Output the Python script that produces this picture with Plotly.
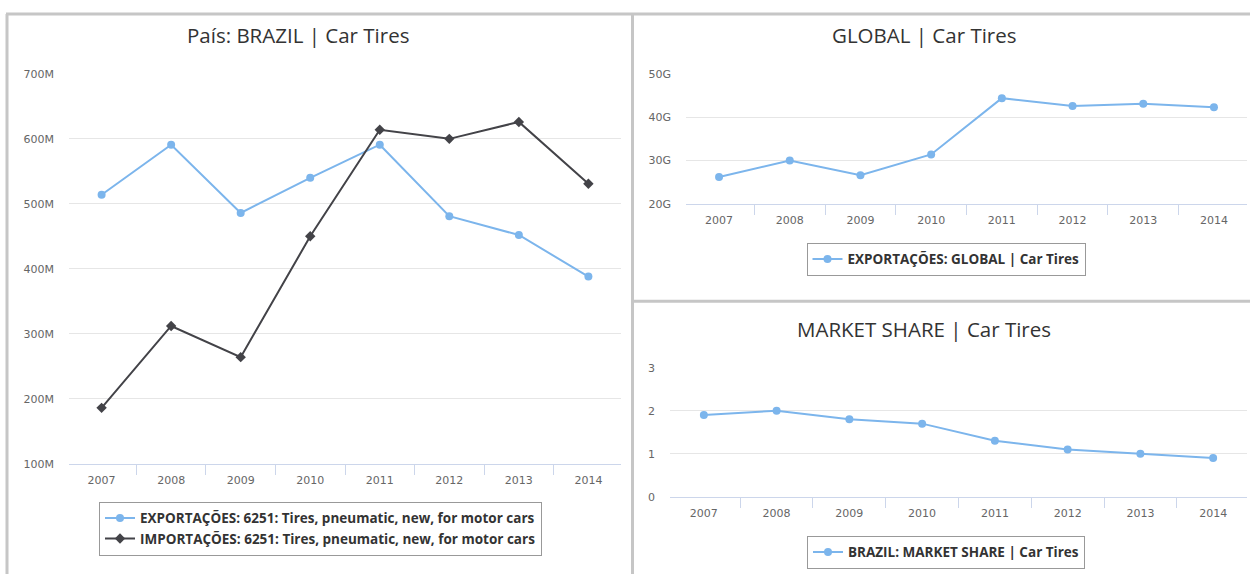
import plotly.graph_objects as go

# ---------------- data ----------------
years = ["2007", "2008", "2009", "2010", "2011", "2012", "2013", "2014"]

brazil_exports_musd = [514, 591, 486, 540, 591, 481, 452, 388]
brazil_imports_musd = [186, 312, 264, 450, 614, 600, 626, 531]
global_exports_gusd = [26.2, 30.0, 26.6, 31.4, 44.4, 42.6, 43.1, 42.3]
brazil_market_share = [1.9, 2.0, 1.8, 1.7, 1.3, 1.1, 1.0, 0.9]

name_exp = "EXPORTAÇÕES: 6251: Tires, pneumatic, new, for motor cars"
name_imp = "IMPORTAÇÕES: 6251: Tires, pneumatic, new, for motor cars"
name_glob = "EXPORTAÇÕES: GLOBAL | Car Tires"
name_ms = "BRAZIL: MARKET SHARE | Car Tires"

title_left = "País: BRAZIL | Car Tires"
title_tr = "GLOBAL | Car Tires"
title_br = "MARKET SHARE | Car Tires"

# ---------------- styling ----------------
W, H = 1250, 581
BLUE = "#7cb5ec"
DARK = "#434348"
AXIS = "#ccd6eb"
GRID = "#e6e6e6"
TICKFONT = dict(family="DejaVu Sans", size=11, color="#666666")
LEGFONT = dict(family="Open Sans", size=13.5, color="#333333", weight="bold")
TITLEFONT = dict(family="Open Sans", size=20.5, color="#333333")

# vertical calibration of the photographed page (observed offset / scale)
Y_OFF, Y_SCALE = 5.1, 0.978


def ty(y):
    """reference-picture pixel row -> figure pixel row"""
    return (y - Y_OFF) / Y_SCALE


def px_x(a, b):
    return [a / W, b / W]


def px_y(top, bottom):
    return [max(0.0, 1 - ty(bottom) / H), min(1.0, 1 - ty(top) / H)]


def py(y):
    return 1 - ty(y) / H


fig = go.Figure()

fig.add_trace(go.Scatter(
    x=years, y=[v * 1e6 for v in brazil_exports_musd], name=name_exp,
    mode="lines+markers", line=dict(color=BLUE, width=2),
    marker=dict(symbol="circle", size=8, color=BLUE),
    xaxis="x", yaxis="y", legend="legend"))
fig.add_trace(go.Scatter(
    x=years, y=[v * 1e6 for v in brazil_imports_musd], name=name_imp,
    mode="lines+markers", line=dict(color=DARK, width=2),
    marker=dict(symbol="diamond", size=8, color=DARK),
    xaxis="x", yaxis="y", legend="legend"))
fig.add_trace(go.Scatter(
    x=years, y=[v * 1e9 for v in global_exports_gusd], name=name_glob,
    mode="lines+markers", line=dict(color=BLUE, width=2),
    marker=dict(symbol="circle", size=8, color=BLUE),
    xaxis="x2", yaxis="y2", legend="legend2"))
fig.add_trace(go.Scatter(
    x=years, y=brazil_market_share, name=name_ms,
    mode="lines+markers", line=dict(color=BLUE, width=2),
    marker=dict(symbol="circle", size=8, color=BLUE),
    xaxis="x3", yaxis="y3", legend="legend3"))

xcommon = dict(type="category", showgrid=False, showline=True, linecolor=AXIS,
               linewidth=1, ticks="outside", tickson="boundaries", ticklen=10,
               tickcolor=AXIS, tickfont=TICKFONT, zeroline=False, fixedrange=True,
               ticklabelstandoff=6)
ycommon = dict(showgrid=True, gridcolor=GRID, gridwidth=1, showline=False,
               zeroline=False, ticks="", tickfont=TICKFONT, fixedrange=True,
               ticklabelstandoff=14)

legcommon = dict(xanchor="center", yanchor="top", bordercolor="#999999",
                 borderwidth=1, bgcolor="white", font=LEGFONT, itemwidth=30)

fig.update_layout(
    width=W, height=H,
    margin=dict(l=0, r=0, t=0, b=0),
    paper_bgcolor="white", plot_bgcolor="white",
    xaxis=dict(domain=px_x(69, 621), anchor="y", **xcommon),
    yaxis=dict(domain=px_y(73, 463), anchor="x", range=[100e6, 700e6],
               dtick=100e6, tickformat="~s", **ycommon),
    xaxis2=dict(domain=px_x(686, 1247), anchor="y2", **xcommon),
    yaxis2=dict(domain=px_y(73, 203), anchor="x2", range=[20e9, 50e9],
                dtick=10e9, tickformat="~s", **ycommon),
    xaxis3=dict(domain=px_x(670, 1247), anchor="y3", **xcommon),
    yaxis3=dict(domain=px_y(367, 496), anchor="x3", range=[0, 3],
                dtick=1, **ycommon),
    legend=dict(x=320.5 / W, y=py(501), **legcommon),
    legend2=dict(x=946 / W, y=py(242), **legcommon),
    legend3=dict(x=946 / W, y=py(535), **legcommon),
    showlegend=True,
)

# titles
for txt, cx, cy in [(title_left, 298, 34), (title_tr, 924, 34), (title_br, 924, 328)]:
    fig.add_annotation(text=txt, x=cx / W, y=py(cy), xref="paper", yref="paper",
                       xanchor="center", yanchor="middle", showarrow=False,
                       font=TITLEFONT)

# panel borders
BORDER = dict(color="#c6c6c6", width=3)
for x0, y0, x1, y1 in [(6, 13, 1250, 13), (7, 13, 7, 600),
                       (632.5, 13, 632.5, 600), (632, 300.5, 1250, 300.5)]:
    fig.add_shape(type="line", xref="paper", yref="paper",
                  x0=x0 / W, y0=max(0.0, py(y0)), x1=x1 / W, y1=max(0.0, py(y1)),
                  line=BORDER, layer="above")

fig.write_html(
    "out.html",
    config={"displayModeBar": False, "responsive": False},
    post_script=(
        "var gd=document.getElementById('{plot_id}');"
        "var css='margin:0;padding:0;overflow:hidden;width:1250px;height:581px;';"
        "document.documentElement.style.cssText=css;"
        "document.body.style.cssText=css;"
        "gd.style.position='fixed';gd.style.left='0px';gd.style.top='0px';"
    ),
)
